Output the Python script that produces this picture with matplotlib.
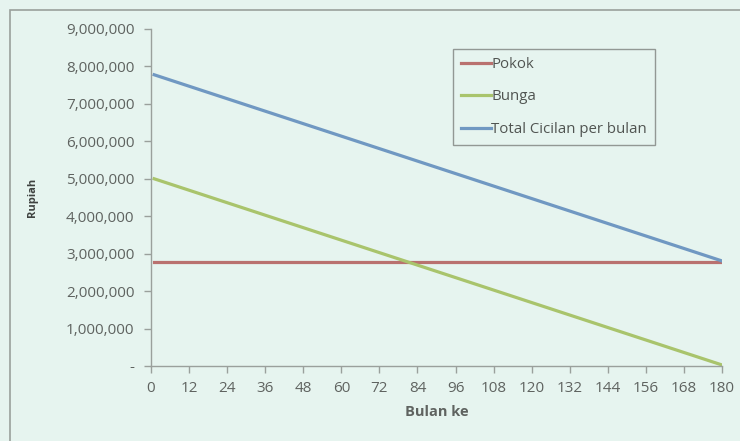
import matplotlib.pyplot as plt
from matplotlib.patches import Rectangle
from matplotlib.ticker import FuncFormatter

# Angsuran KPR 180 bulan (pokok tetap, bunga menurun)
bulan = [1, 180]
pokok = [2777778, 2777778]
bunga = [5000000, 27778]
total_cicilan = [7777778, 2805556]

x_ticks = list(range(0, 181, 12))
y_ticks = list(range(0, 9000001, 1000000))

BG = '#e6f4ef'
TEXT = '#5f6360'

plt.rcParams['font.family'] = ['Open Sans', 'DejaVu Sans']

fig = plt.figure(figsize=(7.4, 4.41), dpi=100)
fig.patch.set_facecolor(BG)

# border of the chart area
fig.patches.append(Rectangle((10 / 740, -0.1), 1.0, 1 - 10 / 441 + 0.1,
                             transform=fig.transFigure, fill=False,
                             edgecolor='#9aa09c', linewidth=1.2))

ax = fig.add_axes([151 / 740, 1 - 366 / 441, (722 - 151) / 740, (366 - 29) / 441])
ax.set_facecolor('none')

ax.plot(bulan, pokok, color='#b9716f', linewidth=2.3, label='Pokok')
ax.plot(bulan, bunga, color='#a9c46c', linewidth=2.3, label='Bunga')
ax.plot(bulan, total_cicilan, color='#7098c2', linewidth=2.3, label='Total Cicilan per bulan')

ax.set_xlim(0, 180)
ax.set_ylim(0, 9000000)
ax.set_xticks(x_ticks)
ax.set_yticks(y_ticks)
ax.yaxis.set_major_formatter(FuncFormatter(lambda v, p: '-' if v == 0 else f'{int(v):,}'))

for side in ['top', 'right']:
    ax.spines[side].set_visible(False)
for side in ['left', 'bottom']:
    ax.spines[side].set_color('#9aa09c')
    ax.spines[side].set_linewidth(1.0)

ax.tick_params(axis='both', colors='#9aa09c', labelcolor=TEXT, labelsize=11, length=5, width=1.0)
ax.tick_params(axis='y', pad=7)
ax.tick_params(axis='x', pad=6)

ax.set_xlabel('Bulan ke', fontsize=10.5, fontweight='bold', color=TEXT, labelpad=6)
ax.set_ylabel('Rupiah', fontsize=8, fontweight='bold', color='#3f4240', labelpad=20)

leg = ax.legend(loc='upper left', bbox_to_anchor=((453 - 151) / 571, (366 - 49) / 337),
                borderaxespad=0, fontsize=10.8, frameon=True, fancybox=False,
                handlelength=2.0, handletextpad=0.0, labelspacing=1.15, borderpad=0.55,
                labelcolor='#505451')
leg.get_frame().set_edgecolor('#7d817e')
leg.get_frame().set_facecolor(BG)
leg.get_frame().set_linewidth(1.0)

plt.savefig('out.png', dpi=100, facecolor=BG)
